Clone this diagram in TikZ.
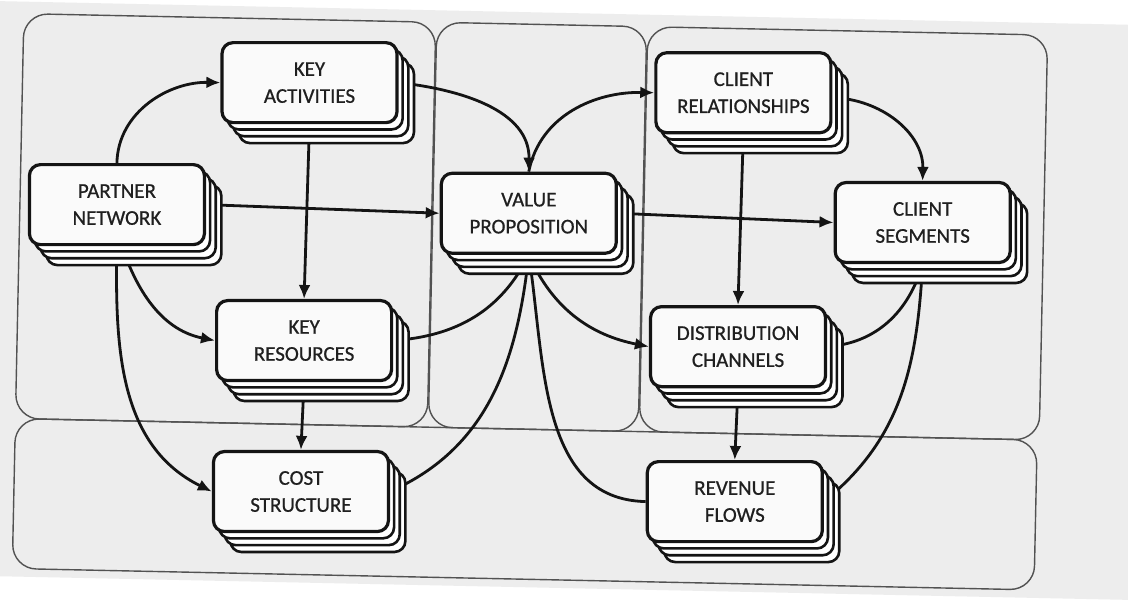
\documentclass[tikz,border=0pt]{standalone}
\usepackage{fontspec}
\setmainfont{Carlito}
\newfontfamily\cardfont{Carlito}[FakeBold=0.7]
\usetikzlibrary{arrows.meta,backgrounds}

% a card with a stack of copies behind it
\newcommand\cardstack[4]{%
  \foreach \k in {3,2,1}{\node[cardback] at (#2+5.8*\k,#3-6.7*\k) {};}
  \node[card] (#1) at (#2,#3) {#4};
}

\begin{document}
\begin{tikzpicture}[x=1pt,y=1pt,
  panel/.style={draw=black!68, line width=1.4pt, rounded corners=24pt},
  card/.style={draw=black!92, line width=3.2pt, fill=black!2, rounded corners=11pt,
    minimum width=175pt, minimum height=80pt, inner sep=0pt, align=center,
    font=\cardfont\fontsize{21}{27}\selectfont, text=black!88},
  cardback/.style={draw=black!92, line width=2.6pt, fill=white, rounded corners=11pt,
    minimum width=175pt, minimum height=80pt, inner sep=0pt},
  flow/.style={draw=black!92, line width=2.8pt},
  arr/.style={flow, -{Latex[length=14pt,width=12pt]}},
]
\useasboundingbox (0,0) rectangle (1128,-600);
\begin{pgfonlayer}{background}
  \fill[white] (0,0) rectangle (1128,-600);
\end{pgfonlayer}

\begin{scope}[rotate around={-1.2:(564,-300)}]
  \begin{pgfonlayer}{background}
    \fill[black!7] (-50,-13) rectangle (1200,-588);
    % the four areas of the canvas
    \draw[panel] (18,-25) rectangle (430,-430);
    \draw[panel] (431,-25) rectangle (641,-430);
    \draw[panel] (642,-25) rectangle (1042,-430);
    \draw[panel] (18,-430) rectangle (1040,-580);
  \end{pgfonlayer}

  \cardstack{KA}{305}{-88}{KEY\\ACTIVITIES}
  \cardstack{PN}{115}{-214}{PARTNER\\NETWORK}
  \cardstack{KR}{305}{-346}{KEY\\RESOURCES}
  \cardstack{CoS}{305}{-497}{COST\\STRUCTURE}
  \cardstack{VP}{527}{-214}{VALUE\\PROPOSITION}
  \cardstack{CR}{739}{-89}{CLIENT\\RELATIONSHIPS}
  \cardstack{DC}{739}{-343}{DISTRIBUTION\\CHANNELS}
  \cardstack{RF}{739}{-498}{REVENUE\\FLOWS}
  \cardstack{CS}{921}{-215}{CLIENT\\SEGMENTS}

  \begin{pgfonlayer}{background}
    \draw[arr] (PN.north) to[out=90,in=180] (KA.west);
    \draw[arr] (KA.south) -- (KR.north);
    \draw[arr] (PN.east) -- (VP.west);
    \draw[arr] ([xshift=5pt]PN.south) to[out=-70,in=170] (KR.west);
    \draw[arr] (PN.south) to[out=-90,in=155] (CoS.west);
    \draw[arr] (KR.south) -- (CoS.north);
    \draw[arr] (KA.east) to[out=-5,in=90] (VP.north);
    \draw[arr] (VP.north) to[out=80,in=180] (CR.west);
    \draw[arr] (VP.east) -- (CS.west);
    \draw[arr] ([yshift=-5pt]CR.east) to[out=0,in=90] (CS.north);
    \draw[arr] (CR.south) -- (DC.north);
    \draw[arr] (VP.south) to[out=-65,in=170] (DC.west);
    \draw[flow] (VP.south) to[out=-115,in=5] (KR.east);
    \draw[flow] (VP.south) to[out=-95,in=25] (CoS.east);
    \draw[flow] (VP.south) to[out=-80,in=180] (RF.west);
    \draw[flow] (CS.south) to[out=-105,in=5] (DC.east);
    \draw[flow] (CS.south) to[out=-92,in=40] (RF.east);
    \draw[arr] (DC.south) -- (RF.north);
  \end{pgfonlayer}
\end{scope}
\end{tikzpicture}
\end{document}
